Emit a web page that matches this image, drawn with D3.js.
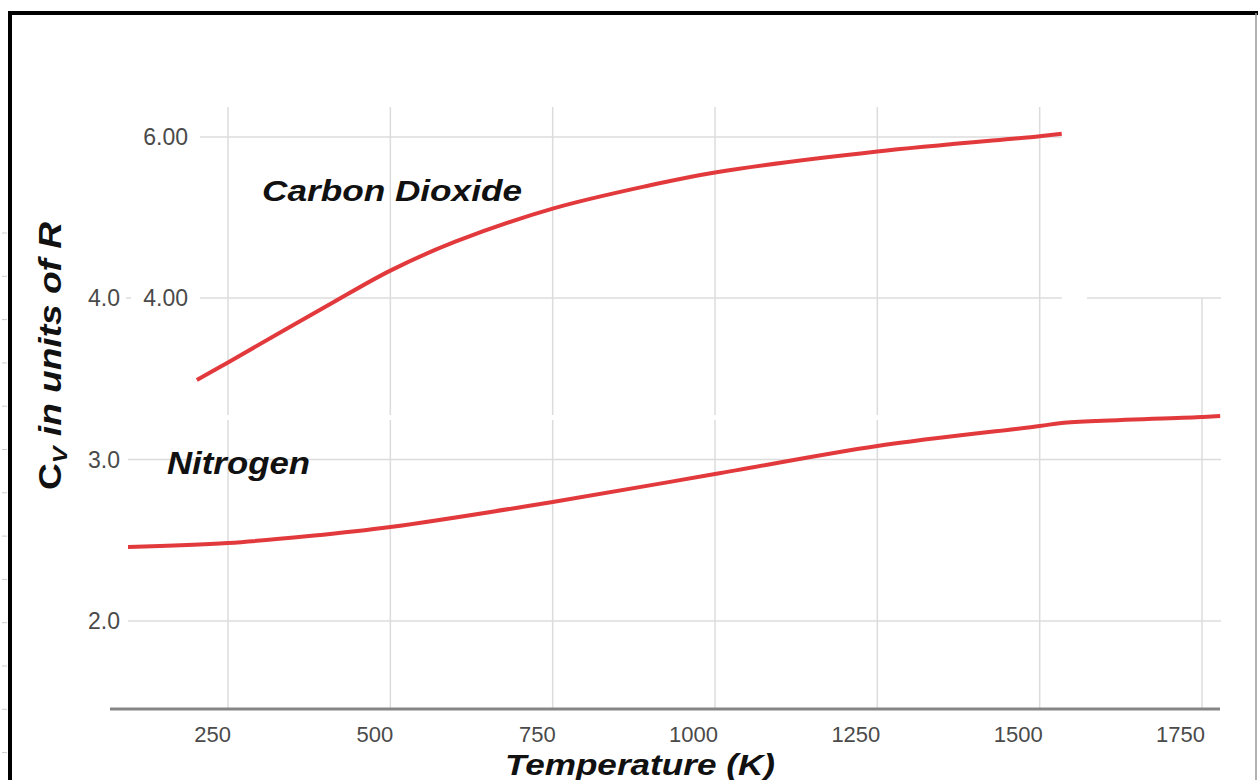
<!DOCTYPE html>
<html>
<head>
<meta charset="utf-8">
<script src="https://cdn.jsdelivr.net/npm/d3@7"></script>
<style>
  body { margin: 0; background: #fff; }
  svg { display: block; font-family: "Liberation Sans", Arial, sans-serif; }
</style>
</head>
<body>
<script>
'use strict';

var width = 1258,
    height = 780;

// temperatures (K) and heat capacity (units of R)
var co2Temps = [202, 250, 400, 500, 600, 750, 900, 1000, 1250, 1500, 1534];
var co2Cv    = [2.98, 3.20, 3.89, 4.34, 4.70, 5.11, 5.40, 5.56, 5.82, 6.01, 6.04];

var n2Temps = [96, 250, 375, 500, 750, 1000, 1250, 1500, 1534, 1750, 1778];
var n2Cv    = [2.458, 2.483, 2.526, 2.582, 2.737, 2.910, 3.084, 3.207, 3.226, 3.263, 3.269];

var xTicks = [250, 500, 750, 1000, 1250, 1500, 1750];
var upperTicks = [4, 6];          // carbon dioxide panel
var upperTickLabels = ['4.00', '6.00'];
var lowerTicks = [2, 3, 4];       // nitrogen panel
var lowerTickLabels = ['2.0', '3.0', '4.0'];

var x = d3.scaleLinear().domain([250, 1750]).range([228, 1202]);
var yUp = d3.scaleLinear().domain([4, 6]).range([298, 137]);
var yLow = d3.scaleLinear().domain([2, 4]).range([621, 298]);

var svg = d3.select('body').append('svg')
    .attr('width', width)
    .attr('height', height);

svg.append('rect')
    .attr('width', width)
    .attr('height', height)
    .attr('fill', '#fff');

// little marks on the far left edge
for (var k = 0; k < 13; k++) {
  svg.append('line')
    .attr('x1', 2).attr('x2', 7)
    .attr('y1', 233 + k * 43.3).attr('y2', 233 + k * 43.3)
    .attr('stroke', '#ccc').attr('stroke-width', 1);
}

var grid = svg.append('g')
    .attr('stroke', '#dcdcdc')
    .attr('stroke-width', 1.5)
    .attr('fill', 'none');

// upper panel grid
grid.selectAll('.vup')
    .data(xTicks.slice(0, 6))
  .enter().append('line')
    .attr('x1', function(d) { return x(d); })
    .attr('x2', function(d) { return x(d); })
    .attr('y1', 107)
    .attr('y2', function(d) { return d === 1500 ? 420 : 415; });

grid.selectAll('.hup')
    .data(upperTicks)
  .enter().append('line')
    .attr('x1', 200)
    .attr('x2', x(1534))
    .attr('y1', function(d) { return yUp(d); })
    .attr('y2', function(d) { return yUp(d); });

// lower panel grid
grid.selectAll('.vlow')
    .data(xTicks)
  .enter().append('line')
    .attr('x1', function(d) { return x(d); })
    .attr('x2', function(d) { return x(d); })
    .attr('y1', function(d) { return d === 1750 ? yLow(4) : 420; })
    .attr('y2', 709);

grid.selectAll('.hlow')
    .data([2, 3])
  .enter().append('line')
    .attr('x1', 128)
    .attr('x2', 1221)
    .attr('y1', function(d) { return yLow(d); })
    .attr('y2', function(d) { return yLow(d); });

// the 4.0 line of the lower panel only peeks out in two spots
grid.append('line')
    .attr('x1', 126).attr('x2', 131)
    .attr('y1', yLow(4)).attr('y2', yLow(4));
grid.append('line')
    .attr('x1', 1087).attr('x2', 1221)
    .attr('y1', yLow(4)).attr('y2', yLow(4));

// x axis
svg.append('line')
    .attr('x1', 110).attr('x2', 1220)
    .attr('y1', 709).attr('y2', 709)
    .attr('stroke', '#858585')
    .attr('stroke-width', 3);

svg.selectAll('.xlab')
    .data(xTicks)
  .enter().append('text')
    .attr('x', function(d) { return x(d) + 3; })
    .attr('y', 742)
    .attr('text-anchor', 'end')
    .attr('font-size', 22)
    .attr('fill', '#4a4a4a')
    .text(function(d) { return d; });

svg.selectAll('.yup')
    .data(upperTicks)
  .enter().append('text')
    .attr('x', 188)
    .attr('y', function(d) { return yUp(d) + 8; })
    .attr('text-anchor', 'end')
    .attr('font-size', 23)
    .attr('fill', '#4a4a4a')
    .text(function(d, i) { return upperTickLabels[i]; });

svg.selectAll('.ylow')
    .data(lowerTicks)
  .enter().append('text')
    .attr('x', 120)
    .attr('y', function(d) { return yLow(d) + 8; })
    .attr('text-anchor', 'end')
    .attr('font-size', 23)
    .attr('fill', '#4a4a4a')
    .text(function(d, i) { return lowerTickLabels[i]; });

// curves
var co2Line = d3.line()
    .x(function(d) { return x(d[0]); })
    .y(function(d) { return yUp(d[1]); })
    .curve(d3.curveCatmullRom.alpha(0.5));

var n2Line = d3.line()
    .x(function(d) { return x(d[0]); })
    .y(function(d) { return yLow(d[1]); })
    .curve(d3.curveCatmullRom.alpha(0.5));

svg.append('path')
    .datum(d3.zip(co2Temps, co2Cv))
    .attr('d', co2Line)
    .attr('fill', 'none')
    .attr('stroke', '#e2393d')
    .attr('stroke-width', 4);

svg.append('path')
    .datum(d3.zip(n2Temps, n2Cv))
    .attr('d', n2Line)
    .attr('fill', 'none')
    .attr('stroke', '#e2393d')
    .attr('stroke-width', 4);

// labels
svg.append('text')
    .attr('x', 262)
    .attr('y', 201)
    .attr('font-size', 30)
    .attr('font-weight', 'bold')
    .attr('font-style', 'italic')
    .attr('fill', '#111')
    .attr('textLength', 260)
    .attr('lengthAdjust', 'spacingAndGlyphs')
    .text('Carbon Dioxide');

svg.append('text')
    .attr('x', 167)
    .attr('y', 474)
    .attr('font-size', 31)
    .attr('font-weight', 'bold')
    .attr('font-style', 'italic')
    .attr('fill', '#111')
    .attr('textLength', 143)
    .attr('lengthAdjust', 'spacingAndGlyphs')
    .text('Nitrogen');

svg.append('text')
    .attr('x', 505)
    .attr('y', 775)
    .attr('font-size', 29)
    .attr('font-weight', 'bold')
    .attr('font-style', 'italic')
    .attr('fill', '#111')
    .attr('textLength', 270)
    .attr('lengthAdjust', 'spacingAndGlyphs')
    .text('Temperature (K)');

var yTitle = svg.append('text')
    .attr('transform', 'translate(61,490) rotate(-90)')
    .attr('font-size', 31)
    .attr('font-weight', 'bold')
    .attr('font-style', 'italic')
    .attr('fill', '#111')
    .attr('textLength', 268)
    .attr('lengthAdjust', 'spacingAndGlyphs');
yTitle.append('tspan').style('font-style', 'normal').text('C');
yTitle.append('tspan').attr('font-size', 21).attr('dy', 6).text('V');
yTitle.append('tspan').attr('dy', -6).text(' in units of R');

// frame
svg.append('path')
    .attr('d', 'M10,' + height + 'V13H' + width)
    .attr('fill', 'none')
    .attr('stroke', '#000')
    .attr('stroke-width', 4);

svg.append('line')
    .attr('x1', 1256).attr('x2', 1256)
    .attr('y1', 13).attr('y2', height)
    .attr('stroke', '#999')
    .attr('stroke-width', 1.5);
</script>
</body>
</html>
